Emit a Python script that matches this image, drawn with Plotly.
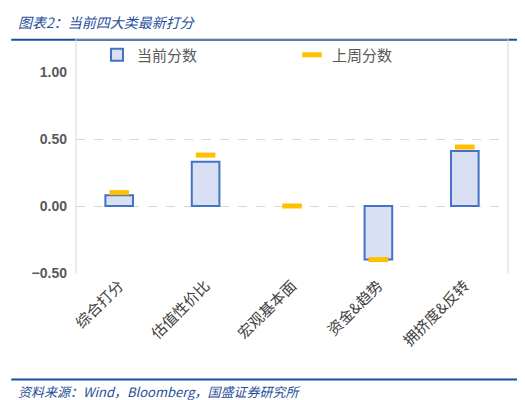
import plotly.graph_objects as go

categories = ["综合打分", "估值性价比", "宏观基本面", "资金&趋势", "拥挤度&反转"]
current_scores = [0.08, 0.33, 0.0, -0.40, 0.41]
last_week_scores = [0.10, 0.38, 0.0, -0.40, 0.44]

fig = go.Figure()

fig.add_trace(go.Bar(
    x=categories, y=current_scores, name="当前分数", width=0.32,
    marker=dict(color="#DAE0F4",
                line=dict(color="#4472C4", width=[2 if v != 0 else 0 for v in current_scores])),
))
fig.add_trace(go.Scatter(
    x=categories, y=last_week_scores, name="上周分数", mode="markers",
    marker=dict(symbol="line-ew", size=14, line=dict(color="#FFC000", width=5)),
))

fig.update_layout(
    width=525, height=400,
    margin=dict(l=68, r=25, t=64, b=135),
    paper_bgcolor="white", plot_bgcolor="white",
    font=dict(family="Noto Sans CJK SC", color="#595959"),
    showlegend=True,
    legend=dict(orientation="h", x=0.5, xanchor="center", y=1.085, yanchor="middle",
                font=dict(size=15, color="#595959"),
                entrywidth=150, bgcolor="rgba(0,0,0,0)"),
    shapes=[
        dict(type="line", xref="paper", yref="paper", x0=-0.15, x1=1.06,
             y0=1.16, y1=1.16, line=dict(color="#1F4E9A", width=2)),
        dict(type="line", xref="paper", yref="paper", x0=-0.15, x1=1.06,
             y0=-0.53, y1=-0.53, line=dict(color="#1F4E9A", width=2)),
        dict(type="line", xref="paper", yref="paper", x0=0, x1=1, y0=1.165, y1=1.165,
             line=dict(color="#D9D9D9", width=1)),
        dict(type="line", xref="paper", yref="paper", x0=0, x1=0, y0=0, y1=1.165,
             line=dict(color="#D9D9D9", width=1)),
        dict(type="line", xref="paper", yref="paper", x0=1, x1=1, y0=0, y1=1.165,
             line=dict(color="#D9D9D9", width=1)),
    ],
    annotations=[
        dict(text="<i>图表2：当前四大类最新打分</i>", xref="paper", yref="paper",
             x=-0.14, y=1.25, xanchor="left", yanchor="middle", showarrow=False,
             font=dict(size=14, color="#1F4E9A", family="Noto Sans CJK SC")),
        dict(text="<i>资料来源：Wind，Bloomberg，国盛证券研究所</i>", xref="paper", yref="paper",
             x=-0.14, y=-0.59, xanchor="left", yanchor="middle", showarrow=False,
             font=dict(size=13, color="#1F4E9A", family="Noto Sans CJK SC")),
    ],
)

fig.update_yaxes(
    range=[-0.5, 1.0], dtick=0.5, tickformat=".2f", showgrid=True,
    gridcolor="#D9D9D9", griddash="dash", zeroline=False,
    tickfont=dict(size=14, color="#595959", family="Liberation Sans", weight="bold"),
    ticklabelstandoff=8,
)
fig.update_xaxes(
    tickangle=-45, tickfont=dict(size=15, color="#404040"), showline=False,
)

fig.write_html("out.html")
